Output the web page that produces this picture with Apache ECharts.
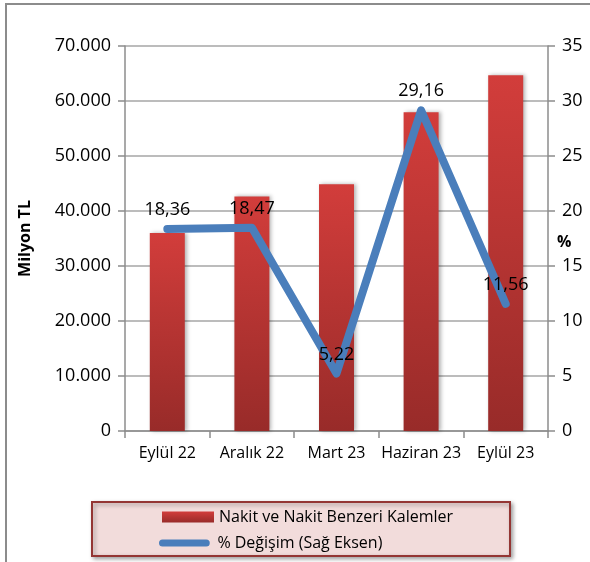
<!DOCTYPE html>
<html>
<head>
<meta charset="utf-8">
<script src="https://cdn.jsdelivr.net/npm/echarts@6/dist/echarts.min.js"></script>
<style>
  html, body { margin: 0; padding: 0; background: #fff; }
  #chart { width: 590px; height: 562px; }
</style>
</head>
<body>
<div id="chart"></div>
<script>
  // kategoriler ve seriler
  const categories = ['Eylül 22', 'Aralık 22', 'Mart 23', 'Haziran 23', 'Eylül 23']
  const cashValues = [36000, 42650, 44880, 57970, 64670]
  const changeValues = [18.36, 18.47, 5.22, 29.16, 11.56]
  const barName = 'Nakit ve Nakit Benzeri Kalemler'
  const lineName = '% Değişim (Sağ Eksen)'

  const font = '"Open Sans", "DejaVu Sans", sans-serif'
  const gray = '#8c8c8c'
  const blue = '#4a7ebb'

  let chart = echarts.init(document.getElementById('chart'))

  const legendText = { fontFamily: font, fontSize: 16, color: '#000' }

  chart.setOption({
    animation: false,
    textStyle: { fontFamily: font, color: '#000' },
    graphic: [
      {
        type: 'rect',
        z: 0,
        shape: { x: 6, y: 4, width: 700, height: 700 },
        style: { fill: 'none', stroke: gray, lineWidth: 2 }
      },
      {
        type: 'rect',
        z: 1,
        shape: { x: 92, y: 502, width: 418, height: 54 },
        style: {
          fill: '#f2dcdb', stroke: '#943634', lineWidth: 2,
          shadowBlur: 4, shadowOffsetX: 2, shadowOffsetY: 2, shadowColor: 'rgba(0,0,0,0.35)'
        }
      }
    ],
    grid: { left: 125, right: 42, top: 46, bottom: 131, outerBoundsMode: 'none', containLabel: false },
    legend: [
      {
        left: 162,
        top: 509,
        padding: 0,
        z: 5,
        itemWidth: 52,
        itemHeight: 11,
        textStyle: legendText,
        data: [{ name: barName, icon: 'rect' }]
      },
      {
        left: 159,
        top: 535,
        padding: 0,
        z: 5,
        itemWidth: 56,
        itemHeight: 7,
        textStyle: legendText,
        data: [{
          name: lineName,
          icon: 'path://M4,0 L54,0 A4,4 0 0 1 54,8 L4,8 A4,4 0 0 1 4,0 Z',
          itemStyle: { color: blue }
        }]
      }
    ],
    xAxis: {
      type: 'category',
      data: categories,
      axisLine: { lineStyle: { color: gray, width: 1.5 } },
      axisTick: { show: true, length: 7, lineStyle: { color: gray, width: 1.5 } },
      axisLabel: { interval: 0, fontSize: 16, color: '#000', margin: 14, fontFamily: font }
    },
    yAxis: [
      {
        type: 'value',
        min: 0,
        max: 70000,
        interval: 10000,
        name: 'Milyon TL',
        nameLocation: 'middle',
        nameGap: 92,
        nameMoveOverlap: false,
        nameTextStyle: { fontSize: 16, fontWeight: 'bold', color: '#000', fontFamily: font },
        axisLine: { show: true, lineStyle: { color: gray, width: 1.5 } },
        axisTick: { show: true, length: 7, lineStyle: { color: gray, width: 1.5 } },
        axisLabel: {
          fontSize: 18, color: '#000', margin: 14, fontFamily: font,
          formatter: v => v.toLocaleString('de-DE')
        },
        splitLine: { lineStyle: { color: '#a6a6a6', width: 1.5 } }
      },
      {
        type: 'value',
        min: 0,
        max: 35,
        interval: 5,
        name: '%',
        nameLocation: 'middle',
        nameRotate: 0,
        nameGap: 9,
        nameMoveOverlap: false,
        nameTextStyle: { fontSize: 16, fontWeight: 'bold', color: '#000', fontFamily: font, verticalAlign: 'top', lineHeight: 8 },
        axisLine: { show: true, lineStyle: { color: gray, width: 1.5 } },
        axisTick: { show: true, length: 7, lineStyle: { color: gray, width: 1.5 } },
        axisLabel: { fontSize: 18, color: '#000', margin: 14, fontFamily: font },
        splitLine: { show: false }
      }
    ],
    series: [
      {
        name: barName,
        type: 'bar',
        yAxisIndex: 0,
        barWidth: 35,
        data: cashValues,
        itemStyle: {
          color: new echarts.graphic.LinearGradient(0, 0, 0, 1, [
            { offset: 0, color: '#d23d3b' },
            { offset: 1, color: '#982b29' }
          ]),
          shadowBlur: 4,
          shadowOffsetX: 2,
          shadowColor: 'rgba(0,0,0,0.3)'
        }
      },
      {
        name: lineName,
        type: 'line',
        yAxisIndex: 1,
        data: changeValues,
        symbol: 'circle',
        symbolSize: 2,
        showSymbol: true,
        z: 3,
        lineStyle: { color: blue, width: 8, cap: 'round', join: 'round' },
        itemStyle: { color: blue },
        label: {
          show: true,
          position: 'top',
          distance: 9,
          fontSize: 18,
          color: '#000',
          fontFamily: font,
          formatter: p => p.value.toFixed(2).replace('.', ',')
        }
      }
    ]
  })
</script>
</body>
</html>
